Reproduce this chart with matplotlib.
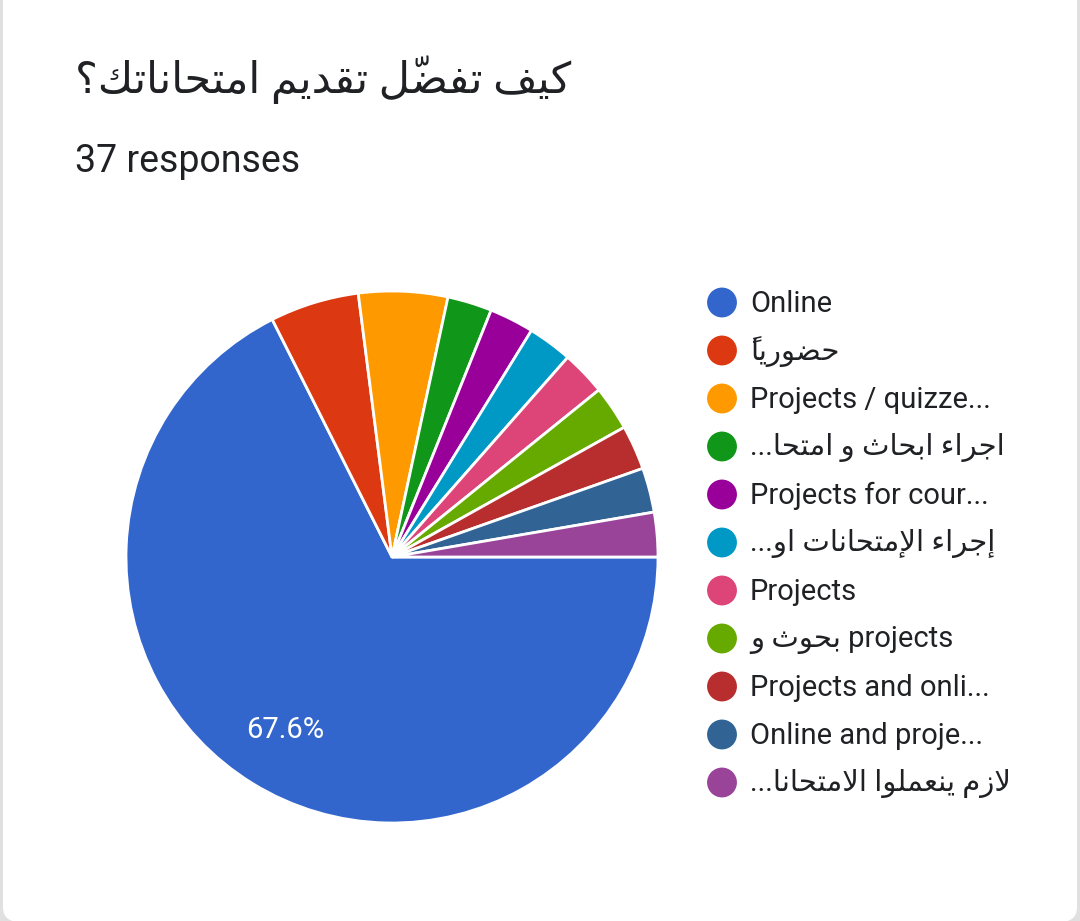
import re
import matplotlib
matplotlib.use("Agg")
import matplotlib.pyplot as plt
from matplotlib.patches import FancyBboxPatch

# ====================== 数据 ======================
TITLE = "كيف تفضّل تقديم امتحاناتك؟"
SUBTITLE = "37 responses"

labels = [
    "Online",
    "حضورياً",
    "Projects / quizze...",
    "اجراء ابحاث و امتحا...",
    "Projects for cour...",
    "إجراء الإمتحانات او...",
    "Projects",
    "بحوث و projects",
    "Projects and onli...",
    "Online and proje...",
    "لازم ينعملوا الامتحانا...",
]
counts = [25, 2, 2, 1, 1, 1, 1, 1, 1, 1, 1]
colors = ["#3366CC", "#DC3912", "#FF9900", "#109618", "#990099", "#0099C6",
          "#DD4477", "#66AA00", "#B82E2E", "#316395", "#994499"]

# ====================== 阿拉伯文字形整形（matplotlib 不做 shaping） ======================
FORMS = {
    "\u0621": ("\uFE80",),
    "\u0622": ("\uFE81", "\uFE82"),
    "\u0623": ("\uFE83", "\uFE84"),
    "\u0625": ("\uFE87", "\uFE88"),
    "\u0627": ("\uFE8D", "\uFE8E"),
    "\u0628": ("\uFE8F", "\uFE90", "\uFE91", "\uFE92"),
    "\u062A": ("\uFE95", "\uFE96", "\uFE97", "\uFE98"),
    "\u062B": ("\uFE99", "\uFE9A", "\uFE9B", "\uFE9C"),
    "\u062C": ("\uFE9D", "\uFE9E", "\uFE9F", "\uFEA0"),
    "\u062D": ("\uFEA1", "\uFEA2", "\uFEA3", "\uFEA4"),
    "\u062F": ("\uFEA9", "\uFEAA"),
    "\u0631": ("\uFEAD", "\uFEAE"),
    "\u0632": ("\uFEAF", "\uFEB0"),
    "\u0636": ("\uFEBD", "\uFEBE", "\uFEBF", "\uFEC0"),
    "\u0639": ("\uFEC9", "\uFECA", "\uFECB", "\uFECC"),
    "\u0641": ("\uFED1", "\uFED2", "\uFED3", "\uFED4"),
    "\u0642": ("\uFED5", "\uFED6", "\uFED7", "\uFED8"),
    "\u0643": ("\uFED9", "\uFEDA", "\uFEDB", "\uFEDC"),
    "\u0644": ("\uFEDD", "\uFEDE", "\uFEDF", "\uFEE0"),
    "\u0645": ("\uFEE1", "\uFEE2", "\uFEE3", "\uFEE4"),
    "\u0646": ("\uFEE5", "\uFEE6", "\uFEE7", "\uFEE8"),
    "\u0648": ("\uFEED", "\uFEEE"),
    "\u064A": ("\uFEF1", "\uFEF2", "\uFEF3", "\uFEF4"),
}
LAM_ALEF = {"\u0627": ("\uFEFB", "\uFEFC"), "\u0625": ("\uFEF9", "\uFEFA"),
            "\u0623": ("\uFEF7", "\uFEF8"), "\u0622": ("\uFEF5", "\uFEF6")}


def is_mark(c):
    return "\u064B" <= c <= "\u0652"


def shape(run):
    """把一段阿拉伯文转成显示顺序的呈现形式"""
    clusters = []  # [base, marks, forms]
    for c in run:
        if is_mark(c) and clusters:
            clusters[-1][1] += c
        elif c in LAM_ALEF and clusters and clusters[-1][0] == "\u0644" and not clusters[-1][1]:
            clusters[-1] = ["LA", "", LAM_ALEF[c]]
        else:
            clusters.append([c, "", FORMS.get(c, (c,))])
    out = []
    for i, (base, marks, forms) in enumerate(clusters):
        prev = clusters[i - 1][2] if i > 0 else ()
        nxt = clusters[i + 1][2] if i + 1 < len(clusters) else ()
        join_prev = len(prev) == 4 and len(forms) >= 2
        join_next = len(forms) == 4 and len(nxt) >= 2
        if join_prev and join_next:
            g = forms[3]
        elif join_prev:
            g = forms[1]
        elif join_next:
            g = forms[2]
        else:
            g = forms[0]
        # 零宽符号向右绘制，所以放在字母前面
        out.append(marks + g)
    return "".join(reversed(out))


ARABIC_RUN = re.compile(r"[\u0600-\u06FF.][\u0600-\u06FF. ]*[\u0600-\u06FF.]|[\u0600-\u06FF]")


def visual(s):
    return ARABIC_RUN.sub(lambda m: shape(m.group(0)), s)


# ====================== 绘图 ======================
plt.rcParams["font.family"] = ["Roboto", "DejaVu Sans"]

W, H = 1080, 921
fig = plt.figure(figsize=(W / 100, H / 100), dpi=100)
fig.patch.set_facecolor("#e0e0e0")

# 白色卡片（底部圆角）
card = FancyBboxPatch((3 / W, -1 / H), 1074 / W, (H + 40) / H,
                      boxstyle="round,pad=0,rounding_size=0.016",
                      transform=fig.transFigure, facecolor="white",
                      edgecolor="none", zorder=-5)
fig.patches.append(card)

fig.text(75 / W, 1 - 80 / H, visual(TITLE), fontsize=31, color="#202124",
         ha="left", va="center")
fig.text(75 / W, 1 - 161 / H, SUBTITLE, fontsize=27, color="#202124",
         ha="left", va="center")

# 饼图
cx, cy, r = 392, 557, 266
ax = fig.add_axes([(cx - r) / W, 1 - (cy + r) / H, 2 * r / W, 2 * r / H])
wedges, texts, autotexts = ax.pie(
    counts, colors=colors, startangle=0, counterclock=False, radius=1,
    autopct=lambda p: f"{p:.1f}%" if p > 10 else "",
    pctdistance=0.765,
    wedgeprops=dict(edgecolor="white", linewidth=2),
    textprops=dict(color="white", fontsize=21),
)
ax.set_xlim(-1, 1)
ax.set_ylim(-1, 1)
ax.set_aspect("equal")
ax.axis("off")

# 图例
lax = fig.add_axes([0, 0, 1, 1], facecolor="none")
lax.set_xlim(0, W)
lax.set_ylim(H, 0)
lax.axis("off")
for i, (lab, col) in enumerate(zip(labels, colors)):
    y = 302.5 + 48 * i
    lax.scatter([722], [y], s=21.5 ** 2, color=col, edgecolors="none")
    lax.text(750, y + 1, visual(lab), fontsize=21, color="#202124",
             ha="left", va="center")

fig.savefig("out.png", dpi=100, facecolor=fig.get_facecolor())
